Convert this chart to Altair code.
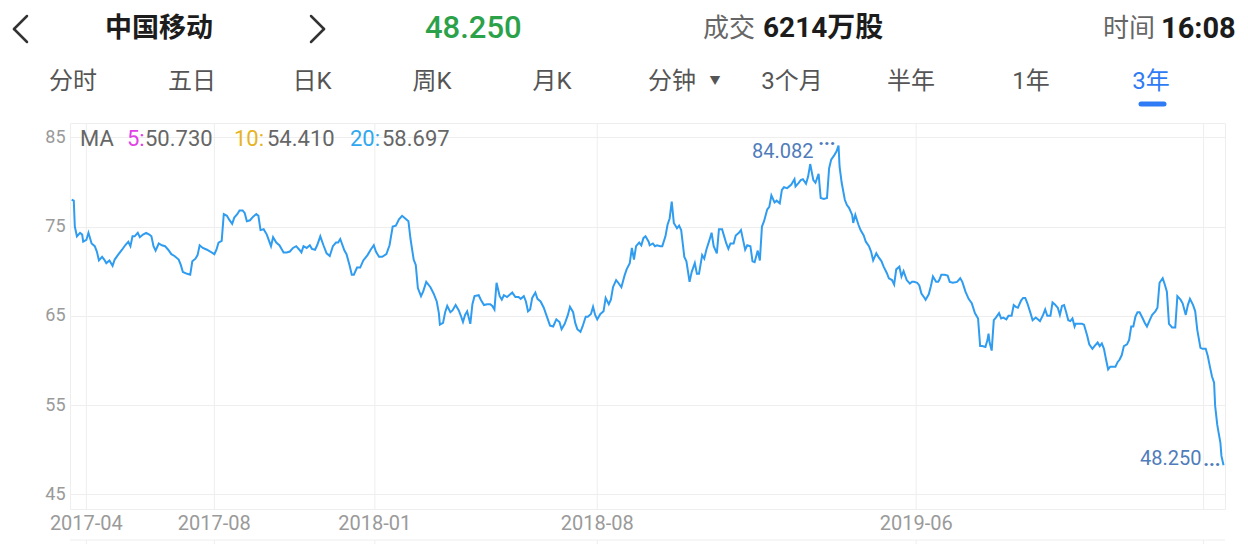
import altair as alt
import pandas as pd

# ---------------------------------------------------------------------------
# Daily close of 中国移动 over three years (day offset from START_DATE, price)
# ---------------------------------------------------------------------------
START_DATE = "2017-03-18"

DAYS = [
    0, 2, 3, 5, 8, 10, 11, 14, 16, 19,
    22, 24, 26, 29, 31, 33, 36, 39, 41, 44,
    48, 51, 54, 56, 58, 60, 63, 65, 68, 71,
    74, 76, 78, 80, 83, 86, 89, 92, 95, 98,
    102, 104, 106, 110, 113, 115, 118, 120, 122, 125,
    129, 132, 136, 138, 140, 143, 145, 148, 150, 153,
    155, 158, 160, 163, 165, 167, 170, 173, 176, 178,
    180, 183, 186, 190, 192, 195, 198, 202, 205, 208,
    211, 214, 217, 219, 221, 224, 227, 229, 232, 234,
    237, 240, 243, 246, 249, 252, 254, 256, 260, 262,
    265, 267, 269, 272, 275,
    278, 282, 285, 288, 290, 293, 296, 300, 303, 306,
    309, 312, 315, 318, 321, 323, 326, 328, 330, 333,
    335, 338, 342, 345, 348, 350, 351, 354, 356, 358,
    361, 363, 366, 369, 371, 373, 375, 377, 380, 382,
    384, 388, 390, 393, 396, 399, 401, 403, 405, 408,
    410, 412, 415, 417, 420, 423, 426, 428, 431, 433,
    435, 437, 439, 442, 444, 447, 450, 453, 456, 459,
    462, 465, 467, 470, 473, 475, 478, 480, 482, 485,
    487, 490, 492, 495, 497, 499, 501, 504, 507, 509,
    512, 514, 516, 519, 521, 524, 527, 529, 532, 534,
    536, 538, 541, 543, 545, 547, 550, 551,
    554, 556, 558, 561, 563, 566, 568, 570, 572, 574,
    577, 579, 581, 584, 586, 589, 591, 594, 596, 598,
    601, 603, 605, 608, 610, 612, 615, 617, 620, 622,
    624, 626, 628, 631, 633, 636, 638, 640, 642, 644,
    647, 649, 651, 654, 656, 658, 660, 663, 665, 667,
    670, 672, 675, 677, 679, 682, 684, 686, 689, 690,
    693, 695, 697, 700, 702, 704, 707, 709, 712, 714,
    717, 720, 722, 724, 727, 729, 731, 732, 734, 737,
    739, 741, 744, 745, 747, 750, 752, 755, 757, 760,
    762, 764, 767, 769, 772, 774, 777, 779, 782, 784,
    786, 789, 791, 793, 796, 799, 801, 803, 806, 808,
    810, 813, 814, 817, 819, 821, 824, 826,
    827, 829, 832, 835, 837, 840, 844, 847, 849, 852,
    855, 858, 861, 864, 866, 868, 871, 873, 874, 875,
    877, 879, 881, 884, 886, 888, 891, 893, 896, 898,
    900, 902, 905, 907, 909, 911, 914, 916, 919, 921,
    923, 926, 928, 930, 933, 935, 937, 940, 942, 944,
    946, 948, 950, 952, 954, 956, 957, 960, 963, 965,
    968, 970, 973, 975, 978, 980, 982, 984, 986, 988,
    990, 992, 995, 997, 999, 1001, 1003, 1006, 1008, 1010,
    1012, 1014, 1016, 1018, 1021, 1023, 1025, 1028, 1030, 1033,
    1035, 1037, 1040, 1042, 1044, 1046, 1049, 1052, 1054, 1057,
    1059, 1062, 1064, 1066, 1069, 1071, 1073, 1076, 1078, 1081,
    1083, 1085, 1087, 1089, 1090, 1092, 1093, 1095, 1096, 1098,
]

PRICES = [
    78.0, 77.9, 75.0, 73.9, 74.3, 74.1, 73.3, 73.5, 74.3, 73.1,
    72.8, 72.2, 71.2, 71.6, 71.3, 70.9, 71.2, 70.6, 71.3, 71.8,
    72.4, 72.9, 73.3, 72.8, 73.9, 73.9, 74.3, 73.8, 74.1, 74.3,
    74.1, 73.9, 72.8, 72.3, 73.1, 72.9, 72.8, 72.4, 71.9, 71.7,
    71.3, 70.7, 69.9, 69.7, 69.6, 71.1, 71.4, 71.8, 72.9, 72.6,
    72.4, 72.2, 71.9, 72.4, 73.2, 73.4, 76.4, 76.2, 75.8, 75.3,
    76.0, 76.4, 76.8, 76.8, 76.5, 75.6, 75.7, 76.1, 76.4, 76.2,
    74.6, 74.7, 74.1, 72.8, 73.8, 73.2, 72.9, 72.1, 72.1, 72.2,
    72.6, 72.8, 72.4, 72.1, 72.8, 72.6, 72.9, 72.5, 72.4, 72.9,
    73.9, 72.9, 72.0, 71.7, 72.8, 73.2, 73.2, 73.6, 72.3, 71.9,
    70.6, 69.6, 69.6, 70.4, 70.4,
    71.2, 71.8, 72.4, 72.9, 72.2, 71.6, 71.6, 71.9, 72.9, 75.0,
    75.1, 75.8, 76.2, 75.9, 75.6, 73.6, 71.3, 70.7, 68.1, 67.2,
    67.7, 68.8, 68.2, 67.5, 66.6, 65.3, 64.0, 64.2, 65.4, 66.1,
    65.4, 65.6, 66.2, 65.6, 65.0, 64.3, 65.1, 65.5, 64.1, 66.3,
    67.2, 67.3, 66.8, 66.2, 66.3, 66.3, 66.1, 65.7, 68.7, 67.2,
    66.8, 67.3, 67.1, 67.3, 67.6, 67.1, 67.1, 66.9, 67.2, 66.6,
    65.5, 65.7, 67.0, 67.6, 66.9, 66.6, 65.9, 64.9, 63.9, 63.8,
    64.6, 64.3, 63.5, 64.1, 65.1, 66.0, 65.4, 64.2, 63.5, 63.2,
    63.8, 64.9, 64.9, 65.2, 66.0, 65.1, 64.6, 65.2, 65.5, 67.0,
    66.3, 66.8, 68.2, 69.0, 68.7, 68.2, 69.5, 70.2, 70.9, 72.6,
    71.3, 72.8, 73.2, 72.9, 73.7, 73.9, 73.3, 72.9,
    73.1, 72.8, 72.9, 72.8, 72.8, 73.9, 75.2, 75.9, 77.8, 75.4,
    74.8, 75.1, 74.6, 71.6, 71.1, 68.8, 69.9, 70.9, 69.7, 69.7,
    71.8, 71.4, 72.4, 73.5, 74.3, 72.8, 72.0, 74.7, 74.7, 73.9,
    73.1, 72.5, 73.1, 73.1, 74.0, 74.3, 74.6, 73.5, 72.4, 72.9,
    72.8, 71.1, 71.0, 72.3, 71.2, 75.0, 75.6, 76.9, 77.2, 78.5,
    77.7, 77.9, 77.6, 79.1, 79.4, 79.3, 79.5, 79.7, 80.3, 79.5,
    79.9, 80.2, 80.3, 79.8, 80.6, 82.0, 80.2, 79.9, 80.9, 78.2,
    78.1, 78.2, 81.5, 82.5, 83.0, 83.4, 84.082, 81.7, 79.9, 78.0,
    77.4, 77.1, 76.3, 75.4, 76.3, 75.2, 74.6, 74.0, 73.3, 72.8,
    72.2, 71.2, 72.0, 71.6, 71.1, 70.5, 69.8, 69.2, 69.0, 68.5,
    70.2, 70.5, 69.4, 70.0, 69.0, 68.6, 68.8, 68.8, 68.7, 68.4,
    67.5, 67.0, 66.8, 67.4, 68.3, 69.4, 68.8, 68.8,
    69.0, 69.6, 69.6, 69.5, 68.8, 68.7, 68.8, 69.2, 68.8, 67.7,
    66.9, 66.4, 65.3, 64.7, 61.6, 61.6, 61.5, 62.3, 63.0, 62.0,
    61.1, 64.5, 64.8, 65.3, 64.7, 64.8, 64.6, 65.0, 65.0, 66.2,
    66.0, 65.9, 66.7, 67.0, 67.0, 66.4, 65.3, 64.5, 64.8, 64.6,
    64.4, 65.1, 65.7, 65.0, 65.0, 66.5, 66.3, 65.9, 65.1, 66.1,
    66.2, 65.4, 64.5, 64.4, 64.7, 63.8, 64.1, 64.1, 64.1, 64.0,
    62.8, 61.8, 61.3, 61.6, 62.0, 61.6, 61.9, 61.3, 60.1, 59.0,
    59.3, 59.3, 59.3, 59.8, 60.1, 60.6, 61.6, 61.8, 62.3, 63.8,
    63.8, 64.9, 65.4, 65.4, 64.7, 64.2, 63.8, 64.6, 65.1, 65.5,
    65.9, 68.7, 69.2, 68.5, 67.7, 64.1, 63.7, 63.7, 67.2, 66.8,
    66.4, 65.1, 66.2, 66.9, 66.2, 65.5, 63.4, 61.4, 61.3, 61.3,
    60.5, 59.3, 58.2, 57.5, 54.9, 52.8, 52.1, 50.8, 49.3, 48.25,
]
assert len(DAYS) == len(PRICES)

TICK_DATES = ["2017-04-01", "2017-08-01", "2018-01-01", "2018-08-01", "2019-06-01", "2020-03-01"]
TICK_LABELS = ["2017-04", "2017-08", "2018-01", "2018-08", "2019-06", ""]
Y_TICKS = [45, 55, 65, 75, 85]
Y_RANGE = [43.35, 86.6]
X_RANGE_DAYS = [-1.6, 1099.4]

TABS = ["分时", "五日", "日K", "周K", "月K", "分钟", "3个月", "半年", "1年", "3年"]
MA_NAMES = ["5:", "10:", "20:"]
MA_VALUES = [50.730, 54.410, 58.697]
VOLUME_TEXT = "6214万股"
TIME_TEXT = "16:08"

# ---------------------------------------------------------------------------
# Layout and styling
# ---------------------------------------------------------------------------
CANVAS_W, CANVAS_H = 1248, 544
LEFT, TOP = 70, 123
PLOT_W, PLOT_H = 1155, 386
FONT = "Roboto, 'Noto Sans CJK SC', sans-serif"
CJK = "'Noto Sans CJK SC', sans-serif"
GRID = "#eeeeee"
LINE_BLUE = "#2f9cf0"
NOTE_BLUE = "#4f7cba"
TAB_BLUE = "#2f7bf5"
GREY = "#666666"
AXIS_GREY = "#9a9a9a"
INK = "#1c1c1c"
MA_COLORS = ["#e042e6", "#e6b422", "#2fa8f0"]

EPOCH = pd.Timestamp("1970-01-01")
start = pd.Timestamp(START_DATE)


def to_ms(ts):
    return int((ts - EPOCH) / pd.Timedelta(milliseconds=1))


price_df = pd.DataFrame({
    "date": [to_ms(start + pd.Timedelta(days=d)) for d in DAYS],
    "price": PRICES,
})
ticks_df = pd.DataFrame({
    "date": [to_ms(pd.Timestamp(d)) for d in TICK_DATES],
    "label": TICK_LABELS,
})

x_scale = alt.Scale(
    type="utc",
    domain=[to_ms(start + pd.Timedelta(days=X_RANGE_DAYS[0])),
            to_ms(start + pd.Timedelta(days=X_RANGE_DAYS[1]))],
    nice=False,
)
y_scale = alt.Scale(domain=Y_RANGE, nice=False, zero=False)
X = alt.X("date:T", scale=x_scale, axis=None)
ONE = alt.Data(values=[{}])


def caption(text, x, y, **style):
    """Fixed-position text, x/y given in page pixels."""
    return alt.Chart(ONE).mark_text(
        text=text, x=x - LEFT, y=y - TOP, baseline="middle", **style
    )


def stroke(x1, y1, x2, y2, **style):
    """A straight stroke between two page-pixel points."""
    return alt.Chart(ONE).mark_rule(**style).encode(
        x=alt.value(x1 - LEFT), y=alt.value(y1 - TOP),
        x2=alt.value(x2 - LEFT), y2=alt.value(y2 - TOP),
    )


# vertical grid lines at the month ticks
vgrid = alt.Chart(ticks_df).mark_rule(color=GRID, strokeWidth=1).encode(x=X)

# price line with the horizontal grid from the y axis
line = alt.Chart(price_df).mark_line(color=LINE_BLUE, strokeWidth=2).encode(
    x=X,
    y=alt.Y(
        "price:Q", scale=y_scale,
        axis=alt.Axis(
            values=Y_TICKS, grid=True, gridColor=GRID, gridWidth=1,
            ticks=False, domain=False, labelPadding=5, labelFontSize=18,
            labelColor=AXIS_GREY, labelFont=FONT, title=None,
        ),
    ),
)

# month labels under the plot
xlabels = alt.Chart(ticks_df).mark_text(
    baseline="middle", fontSize=20, color=AXIS_GREY, font=FONT
).encode(x=X, y=alt.value(524 - TOP), text="label:N")

# strip below the labels (top edge of the volume pane)
lower_edge = stroke(LEFT, 540, LEFT + PLOT_W, 540, color=GRID, strokeWidth=1)
lower_ticks = alt.Chart(ticks_df).mark_rule(color=GRID, strokeWidth=1).encode(
    x=X, y=alt.value(540 - TOP), y2=alt.value(CANVAS_H - TOP)
)

# high / last price call-outs
peak_i = PRICES.index(max(PRICES))
peak_df = pd.DataFrame({
    "date": [price_df["date"][peak_i]], "price": [PRICES[peak_i]],
    "label": [f"{PRICES[peak_i]:.3f}"],
})
last_df = pd.DataFrame({
    "date": [price_df["date"].iloc[-1]], "price": [PRICES[-1]],
    "label": [f"{PRICES[-1]:.3f}"],
})
Y = alt.Y("price:Q", scale=y_scale)
peak_text = alt.Chart(peak_df).mark_text(
    align="right", baseline="middle", dx=-25, dy=7, fontSize=20,
    color=NOTE_BLUE, font=FONT,
).encode(x=X, y=Y, text="label:N")
peak_dots = alt.Chart(peak_df).mark_text(
    align="right", baseline="alphabetic", dx=-3, dy=0, fontSize=20,
    fontWeight="bold", color=NOTE_BLUE, font=FONT, text="...",
).encode(x=X, y=Y)
last_text = alt.Chart(last_df).mark_text(
    align="right", baseline="middle", dx=-22, dy=-6, fontSize=20,
    color=NOTE_BLUE, font=FONT,
).encode(x=X, y=Y, text="label:N")
last_dots = alt.Chart(last_df).mark_text(
    align="right", baseline="alphabetic", dx=-3, dy=1, fontSize=20,
    fontWeight="bold", color=NOTE_BLUE, font=FONT, text="...",
).encode(x=X, y=Y)

# MA legend inside the plot
MA_SIZE = 22
ma_parts = [caption("MA", 80, 139, align="left", fontSize=MA_SIZE, color=GREY, font=FONT)]
ma_name_x = [127, 234, 350]
ma_value_x = [145, 267, 382]
for name, value, color, nx, vx in zip(MA_NAMES, MA_VALUES, MA_COLORS, ma_name_x, ma_value_x):
    ma_parts.append(caption(name, nx, 139, align="left", fontSize=MA_SIZE, color=color, font=FONT))
    ma_parts.append(caption(f"{value:.3f}", vx, 139, align="left", fontSize=MA_SIZE, color=GREY, font=FONT))

# header row
header = [
    stroke(27, 16, 14, 29, color="#333333", strokeWidth=2.5, strokeCap="round"),
    stroke(14, 29, 27, 42, color="#333333", strokeWidth=2.5, strokeCap="round"),
    stroke(311, 16, 324, 29, color="#333333", strokeWidth=2.5, strokeCap="round"),
    stroke(324, 29, 311, 42, color="#333333", strokeWidth=2.5, strokeCap="round"),
    caption("中国移动", 105, 29, align="left", fontSize=27, fontWeight="bold", color=INK, font=CJK),
    caption(f"{PRICES[-1]:.3f}", 425, 29, align="left", fontSize=31, fontWeight=500,
            color="#2ba24a", font=FONT),
    caption("成交", 703, 29, align="left", fontSize=26, color=GREY, font=CJK),
    caption(VOLUME_TEXT, 763, 29, align="left", fontSize=28, fontWeight="bold", color=INK, font=FONT),
    caption("时间", 1103, 29, align="left", fontSize=26, color=GREY, font=CJK),
    caption(TIME_TEXT, 1161, 29, align="left", fontSize=29, fontWeight="bold", color=INK, font=FONT),
]

# period tabs
tab_x = [73, 192, 312, 432, 552, 672, 792, 911, 1031, 1151]
tabs = []
for i, (label, cx) in enumerate(zip(TABS, tab_x)):
    active = i == len(TABS) - 1
    tabs.append(caption(label, cx, 82, align="center", fontSize=24,
                        color=TAB_BLUE if active else "#555555", font=FONT))
tabs.append(caption("▼", 715, 82, align="center", fontSize=11, color="#555555", font=FONT))
tabs.append(stroke(1141, 104, 1164, 104, color=TAB_BLUE, strokeWidth=5, strokeCap="round"))

chart = alt.layer(
    vgrid, line, xlabels, lower_edge, lower_ticks,
    peak_text, peak_dots, last_text, last_dots,
    *ma_parts, *header, *tabs,
).properties(
    width=PLOT_W, height=PLOT_H,
    autosize=alt.AutoSizeParams(type="none"),
    padding={"left": LEFT, "top": TOP,
             "right": CANVAS_W - LEFT - PLOT_W, "bottom": CANVAS_H - TOP - PLOT_H},
    background="white",
).configure_view(
    stroke=GRID, strokeWidth=1,
)

chart.save("out.html", embed_options={"renderer": "svg", "actions": False})
